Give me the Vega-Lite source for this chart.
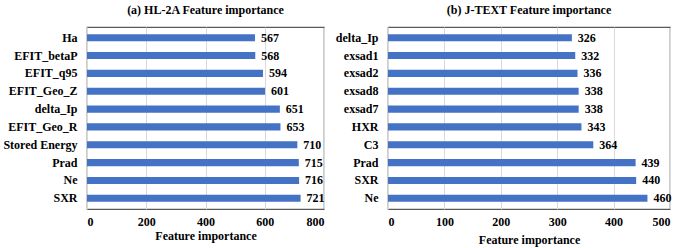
{
  "$schema": "https://vega.github.io/schema/vega-lite/v6.json",
  "background": "white",
  "autosize": {"type": "pad"},
  "padding": {"left": 2, "top": 3, "right": 0, "bottom": 2},
  "spacing": 8,
  "config": {
    "font": "Liberation Serif",
    "view": {"stroke": "#595959", "strokeWidth": 1.2},
    "axis": {
      "labelFont": "Liberation Serif", "labelFontWeight": "bold", "labelFontSize": 12, "labelColor": "black",
      "titleFont": "Liberation Serif", "titleFontWeight": "bold", "titleFontSize": 12, "titleColor": "black",
      "ticks": false, "gridColor": "#d9d9d9"
    },
    "title": {"font": "Liberation Serif", "fontWeight": "bold", "fontSize": 12, "color": "black", "anchor": "middle", "offset": 10}
  },
  "hconcat": [
    {
      "title": "(a) HL-2A Feature importance",
      "width": 237,
      "height": 182,
      "data": {"values": [
        {"feature": "Ha", "value": 567},
        {"feature": "EFIT_betaP", "value": 568},
        {"feature": "EFIT_q95", "value": 594},
        {"feature": "EFIT_Geo_Z", "value": 601},
        {"feature": "delta_Ip", "value": 651},
        {"feature": "EFIT_Geo_R", "value": 653},
        {"feature": "Stored Energy", "value": 710},
        {"feature": "Prad", "value": 715},
        {"feature": "Ne", "value": 716},
        {"feature": "SXR", "value": 721}
      ]},
      "encoding": {
        "y": {"field": "feature", "type": "nominal", "sort": {"field": "value", "order": "ascending"},
              "title": null, "scale": {"paddingInner": 0.6, "paddingOuter": 0.4},
              "axis": {"domain": false, "labelPadding": 10}},
        "x": {"field": "value", "type": "quantitative", "scale": {"domain": [0, 800]},
              "title": "Feature importance",
              "axis": {"values": [0, 200, 400, 600, 800], "domain": false, "labelPadding": 7, "titlePadding": 3}}
      },
      "layer": [
        {"mark": {"type": "bar", "color": "#4472C4"}},
        {"mark": {"type": "text", "align": "left", "dx": 6, "fontWeight": "bold", "fontSize": 12, "font": "Liberation Serif", "color": "black"},
         "encoding": {"text": {"field": "value", "type": "quantitative"}}}
      ]
    },
    {
      "title": "(b) J-TEXT Feature importance",
      "width": 282,
      "height": 182,
      "data": {"values": [
        {"feature": "delta_Ip", "value": 326},
        {"feature": "exsad1", "value": 332},
        {"feature": "exsad2", "value": 336},
        {"feature": "exsad8", "value": 338},
        {"feature": "exsad7", "value": 338.1},
        {"feature": "HXR", "value": 343},
        {"feature": "C3", "value": 364},
        {"feature": "Prad", "value": 439},
        {"feature": "SXR", "value": 440},
        {"feature": "Ne", "value": 460}
      ]},
      "encoding": {
        "y": {"field": "feature", "type": "nominal", "sort": ["delta_Ip", "exsad1", "exsad2", "exsad8", "exsad7", "HXR", "C3", "Prad", "SXR", "Ne"],
              "title": null, "scale": {"paddingInner": 0.6, "paddingOuter": 0.4},
              "axis": {"domain": false, "labelPadding": 10}},
        "x": {"field": "value", "type": "quantitative", "scale": {"domain": [0, 500]},
              "title": "Feature importance",
              "axis": {"values": [0, 100, 200, 300, 400, 500], "domain": false, "labelPadding": 7, "titlePadding": 7}}
      },
      "layer": [
        {"mark": {"type": "bar", "color": "#4472C4"}},
        {"mark": {"type": "text", "align": "left", "dx": 6, "fontWeight": "bold", "fontSize": 12, "font": "Liberation Serif", "color": "black"},
         "encoding": {"text": {"field": "value", "type": "quantitative", "format": "d"}}}
      ]
    }
  ]
}
